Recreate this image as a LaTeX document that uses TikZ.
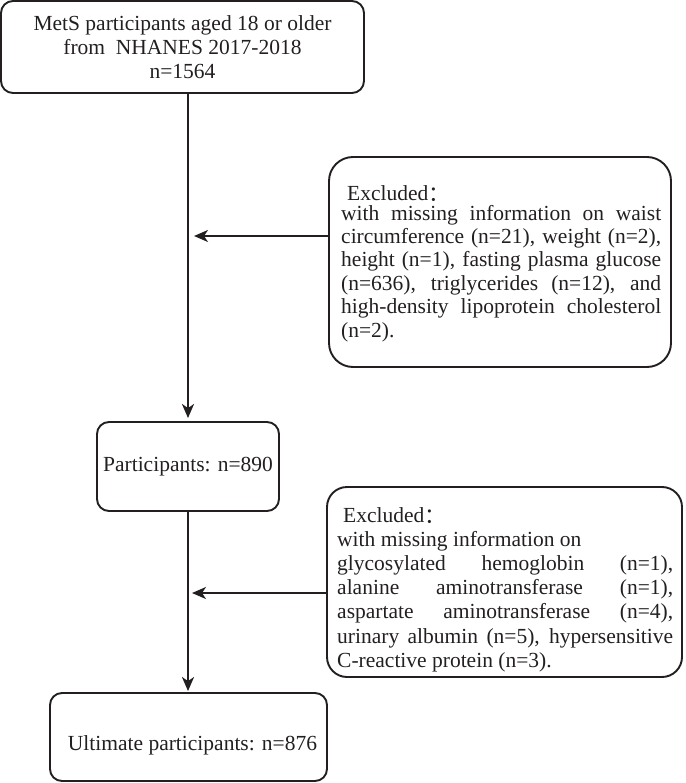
\documentclass[tikz,border=0pt]{standalone}
\usepackage{fontspec}
\setmainfont{Liberation Serif}
\newfontfamily\cjk{Noto Sans CJK SC}
\usetikzlibrary{arrows.meta}
\definecolor{ink}{HTML}{231F20}
\newcommand{\fwcolon}{\smash{\raisebox{-1.5pt}{\cjk ：}}}
\begin{document}
\begin{tikzpicture}[x=1pt,y=-1pt,
  box/.style={draw=ink, line width=1.9pt, rounded corners=12pt, inner sep=0pt},
  exbox/.style={draw=ink, line width=1.9pt, rounded corners=24pt, inner sep=0pt},
  txt/.style={font=\fontsize{21.5}{24}\selectfont, text=ink},
  arr/.style={draw=ink, line width=1.9pt, -{Stealth[length=14pt,width=12pt,inset=4pt]}}]
\useasboundingbox (0,0) rectangle (685,783);

\node[box, minimum width=363pt, minimum height=92pt, txt, align=center] (b1) at (182.5,47)
  {MetS participants aged 18 or older\\from~~NHANES 2017-2018\\n=1564};

\node[box, minimum width=182pt, minimum height=89pt, txt] (p) at (188,466.5) {Participants: n=890};

\node[box, minimum width=277pt, minimum height=88pt] (u) at (188.5,737) {};
\node[txt, inner sep=0pt] (ut) at (192.5,745) {Ultimate participants: n=876};

\node[exbox, minimum width=342pt, minimum height=210pt] (e1) at (500,262) {};
\node[txt, font=\fontsize{21.5}{23.4}\selectfont, anchor=north west, inner sep=0pt, align=left] (e1t) at (341,185)
  {\hspace*{6pt}Excluded\fwcolon\\[-3.4pt]
   \makebox[320pt][s]{with missing information on waist}\\
   \makebox[320pt][s]{circumference (n=21), weight (n=2),}\\
   \makebox[320pt][s]{height (n=1), fasting plasma glucose}\\
   \makebox[320pt][s]{(n=636), triglycerides (n=12), and}\\
   \makebox[320pt][s]{high-density lipoprotein cholesterol}\\
   (n=2).};

\node[exbox, rounded corners=20pt, minimum width=355pt, minimum height=190pt] (e2) at (504.5,582) {};
\node[txt, font=\fontsize{21.5}{24.2}\selectfont, anchor=north west, inner sep=0pt, align=left] (e2t) at (337,507)
  {\hspace*{6pt}Excluded\fwcolon\\
   with missing information on\\
   \makebox[336pt][s]{glycosylated hemoglobin (n=1),}\\
   \makebox[336pt][s]{alanine aminotransferase (n=1),}\\
   \makebox[336pt][s]{aspartate aminotransferase (n=4),}\\
   \makebox[336pt][s]{urinary albumin (n=5), hypersensitive}\\
   C-reactive protein (n=3).};

\coordinate (j1) at (194,236);
\coordinate (j2) at (192,593);

\draw[arr] (p.north |- b1.south) -- ([yshift=3pt]p.north);
\draw[arr] (p.south) -- ([yshift=1pt]u.north -| p.south);
\draw[arr] (e1.west |- j1) -- (j1);
\draw[arr] (e2.west |- j2) -- (j2);
\end{tikzpicture}
\end{document}
